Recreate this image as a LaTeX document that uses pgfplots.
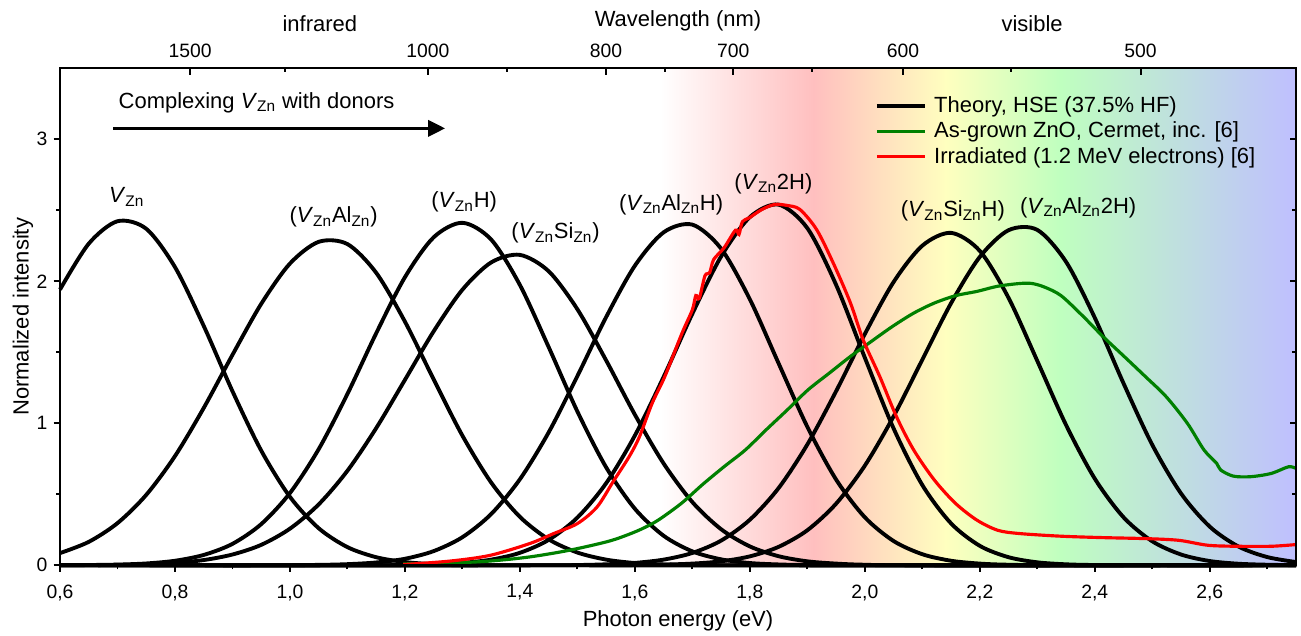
\documentclass[border=0pt]{standalone}
\usepackage{fontspec}
\setmainfont{Liberation Sans}
\usepackage{pgfplots}
\pgfplotsset{compat=1.18}
\usetikzlibrary{arrows.meta}

\definecolor{specred}{RGB}{255,191,191}
\definecolor{specyellow}{RGB}{255,255,191}
\definecolor{specgreen}{RGB}{191,255,191}
\definecolor{specblue}{RGB}{191,191,255}
\definecolor{expgreen}{RGB}{0,128,0}

\newcommand{\lab}{\fontsize{12.5}{15}\selectfont}
\newcommand{\tck}{\fontsize{11}{13}\selectfont}
\newcommand{\VZn}{\textit{V}\textsubscript{Zn}}
\newcommand{\Zn}{\textsubscript{Zn}}

\pgfplotsset{
  frame/.style={
    scale only axis, width=247.2mm, height=99.4mm,
    xmin=0.6, xmax=2.75, ymin=0, ymax=3.5,
    axis line style={line width=1.3pt},
    tick style={line width=1.1pt, black},
    major tick length=1.3mm, minor tick length=0.8mm,
    tick label style={font=\tck},
    /pgf/number format/assume math mode=true,
  },
  theory/.style={black, line width=2.2pt, smooth},
}

\begin{document}
\begin{tikzpicture}
\begin{axis}[frame,
  axis on top, clip=false,
  xtick={0.6,0.8,1.0,1.2,1.4,1.6,1.8,2.0,2.2,2.4,2.6},
  minor xtick={0.7,0.9,1.1,1.3,1.5,1.7,1.9,2.1,2.3,2.5,2.7},
  ytick={0,1,2,3}, minor ytick={0.5,1.5,2.5},
  xtick pos=left, ytick pos=left, tick align=outside,
  xticklabel style={yshift=-1.3mm, /pgf/number format/.cd, fixed, fixed zerofill, precision=1, use comma},
  legend style={draw=none, fill=none, at={(0.659,0.951)}, anchor=north west,
    font=\lab, inner sep=0pt, column sep=0.8mm, nodes={inner sep=0.7mm}},
  legend cell align=left,
  legend image code/.code={\draw[#1] (0mm,0mm) -- (9.6mm,0mm);},
]
\coordinate (bl) at (rel axis cs:0,0);
\coordinate (tr) at (rel axis cs:1,1);
\coordinate (ml) at (rel axis cs:0,0.5);
\coordinate (bm) at (rel axis cs:0.5,0);

% visible spectrum background
\fill[left color=white, right color=specred] (axis cs:1.644,0) rectangle (axis cs:1.912,3.5);
\fill[left color=specred, right color=specyellow] (axis cs:1.910,0) rectangle (axis cs:2.142,3.5);
\fill[left color=specyellow, right color=specgreen] (axis cs:2.140,0) rectangle (axis cs:2.342,3.5);
\fill[left color=specgreen, right color=specblue] (axis cs:2.340,0) rectangle (axis cs:2.75,3.5);

% theory lineshapes
\addplot[theory] coordinates {
 (0.60,1.942) (0.65,2.265) (0.70,2.423) (0.75,2.370) (0.80,2.100)
 (0.85,1.686) (0.90,1.226) (0.95,0.808) (1.00,0.482) (1.05,0.261) (1.10,0.128)
 (1.15,0.057) (1.20,0.023) (1.25,0.008) (1.30,0.002) (1.40,0) (2.75,0)};
\addlegendentry{Theory, HSE (37.5\% HF)}
\addplot[theory, forget plot] coordinates {
 (0.60,0.086) (0.65,0.165) (0.70,0.297) (0.75,0.496) (0.80,0.769) (0.85,1.108)
 (0.90,1.482) (0.95,1.841) (1.00,2.125) (1.05,2.278) (1.10,2.262)
 (1.15,2.060) (1.20,1.716) (1.25,1.309) (1.30,0.913) (1.35,0.583) (1.40,0.341)
 (1.45,0.183) (1.50,0.090) (1.55,0.040) (1.60,0.016) (1.65,0.006) (1.70,0.002)
 (1.80,0) (2.75,0)};
\addplot[theory, forget plot] coordinates {
 (0.60,0.000) (0.65,0.002) (0.70,0.005)
 (0.75,0.013) (0.80,0.032) (0.85,0.073) (0.90,0.151) (0.95,0.290) (1.00,0.509)
 (1.05,0.818) (1.10,1.207) (1.15,1.634) (1.20,2.029) (1.25,2.310) (1.30,2.412)
 (1.35,2.294) (1.40,1.974) (1.45,1.537) (1.50,1.083) (1.55,0.690) (1.60,0.398)
 (1.65,0.208) (1.70,0.098) (1.75,0.042) (1.80,0.016) (1.85,0.006) (1.90,0.002)
 (2.00,0) (2.75,0)};
\addplot[theory, forget plot] coordinates {
 (0.60,0.000) (0.65,0.001) (0.70,0.003)
 (0.75,0.007) (0.80,0.017) (0.85,0.037) (0.90,0.076) (0.95,0.144) (1.00,0.258)
 (1.05,0.429) (1.10,0.666) (1.15,0.966) (1.20,1.306) (1.25,1.648) (1.30,1.941)
 (1.35,2.133) (1.40,2.186) (1.45,2.071) (1.50,1.803) (1.55,1.443) (1.60,1.061)
 (1.65,0.717) (1.70,0.445) (1.75,0.254) (1.80,0.133) (1.85,0.064) (1.90,0.028)
 (1.95,0.012) (2.00,0.004) (2.10,0) (2.75,0)};
\addplot[theory, forget plot] coordinates {
 (0.60,0) (0.95,0) (1.05,0.003)
 (1.10,0.008) (1.15,0.020) (1.20,0.046) (1.25,0.100) (1.30,0.198) (1.35,0.361)
 (1.40,0.606) (1.45,0.936) (1.50,1.333) (1.55,1.748) (1.60,2.110) (1.65,2.345)
 (1.70,2.399) (1.75,2.230) (1.80,1.873) (1.85,1.422) (1.90,0.975) (1.95,0.604)
 (2.00,0.338) (2.05,0.171) (2.10,0.078) (2.15,0.032) (2.20,0.012) (2.25,0.004)
 (2.35,0) (2.75,0)};
\addplot[theory, forget plot] coordinates {
 (0.60,0) (1.10,0) (1.20,0.002)
 (1.25,0.006) (1.30,0.017) (1.35,0.040) (1.40,0.088) (1.45,0.179) (1.50,0.336)
 (1.55,0.578) (1.60,0.914) (1.65,1.327) (1.70,1.772) (1.75,2.175) (1.80,2.452)
 (1.85,2.540) (1.90,2.374) (1.95,1.975) (2.00,1.462) (2.05,0.964) (2.10,0.565)
 (2.15,0.295) (2.20,0.137) (2.25,0.057) (2.30,0.021) (2.35,0.007) (2.40,0.002)
 (2.50,0) (2.75,0)};
\addplot[theory, forget plot] coordinates {
 (0.60,0) (1.40,0) (1.50,0.002)
 (1.55,0.007) (1.60,0.017) (1.65,0.040) (1.70,0.087) (1.75,0.174) (1.80,0.321)
 (1.85,0.544) (1.90,0.851) (1.95,1.226) (2.00,1.629) (2.05,1.995) (2.10,2.251)
 (2.15,2.341) (2.20,2.214) (2.25,1.883) (2.30,1.439) (2.35,0.988) (2.40,0.610)
 (2.45,0.338) (2.50,0.169) (2.55,0.076) (2.60,0.030) (2.65,0.011) (2.70,0.004)
 (2.75,0.001)};
\addplot[theory, forget plot] coordinates {
 (0.60,0) (1.50,0) (1.60,0.002)
 (1.65,0.005) (1.70,0.012) (1.75,0.028) (1.80,0.063) (1.85,0.130) (1.90,0.247)
 (1.95,0.434) (2.00,0.702) (2.05,1.049) (2.10,1.448) (2.15,1.846) (2.20,2.172)
 (2.25,2.360) (2.30,2.362) (2.35,2.137) (2.40,1.743) (2.45,1.281)
 (2.50,0.848) (2.55,0.506) (2.60,0.272) (2.65,0.132) (2.70,0.058) (2.75,0.023)};

% measured spectra
\addplot[expgreen, line width=1.8pt, smooth] coordinates {
 (1.197,0.010) (1.279,0.016) (1.348,0.030) (1.417,0.059) (1.486,0.106) (1.555,0.170)
 (1.597,0.230) (1.624,0.280) (1.645,0.330) (1.682,0.440) (1.718,0.570) (1.755,0.694)
 (1.792,0.812) (1.828,0.953) (1.865,1.094) (1.901,1.235) (1.938,1.353) (1.975,1.471)
 (2.011,1.576) (2.048,1.682) (2.085,1.776) (2.121,1.847) (2.158,1.899) (2.195,1.929)
 (2.231,1.965) (2.268,1.984) (2.290,1.985) (2.312,1.960) (2.341,1.900) (2.378,1.760)
 (2.414,1.612) (2.451,1.471) (2.488,1.329) (2.524,1.188) (2.561,1.000) (2.590,0.812)
 (2.612,0.718) (2.619,0.671) (2.641,0.628) (2.671,0.624) (2.707,0.647) (2.737,0.694)
 (2.750,0.682)};
\addlegendentry{As-grown ZnO, Cermet, inc. [6]}
\addplot[red, line width=1.8pt, smooth] coordinates {
 (1.197,0.005) (1.279,0.030) (1.348,0.070) (1.417,0.153) (1.459,0.224) (1.500,0.294)
 (1.534,0.410) (1.562,0.588) (1.590,0.765) (1.608,0.906) (1.630,1.141) (1.652,1.329)
 (1.682,1.635) (1.700,1.800) (1.706,1.900) (1.712,1.880) (1.722,2.040) (1.730,2.060)
 (1.737,2.153) (1.755,2.235) (1.775,2.360) (1.781,2.330) (1.787,2.420) (1.799,2.447)
 (1.821,2.506) (1.843,2.541) (1.865,2.534) (1.887,2.506) (1.916,2.365) (1.945,2.129)
 (1.975,1.847) (1.997,1.588) (2.026,1.329) (2.055,1.047) (2.085,0.812) (2.121,0.600)
 (2.158,0.435) (2.195,0.318) (2.231,0.247) (2.268,0.224) (2.341,0.205) (2.414,0.195)
 (2.488,0.188) (2.546,0.176) (2.597,0.141) (2.649,0.134) (2.707,0.134) (2.750,0.146)};
\addlegendentry{Irradiated (1.2 MeV electrons) [6]}

% peak labels
\node[anchor=base, font=\lab] at (axis cs:0.716,2.553) {\VZn};
\node[anchor=base, font=\lab] at (axis cs:1.076,2.412) {(\VZn Al\Zn)};
\node[anchor=base, font=\lab] at (axis cs:1.303,2.518) {(\VZn H)};
\node[anchor=base, font=\lab] at (axis cs:1.462,2.299) {(\VZn Si\Zn)};
\node[anchor=base, font=\lab] at (axis cs:1.663,2.502) {(\VZn Al\Zn H)};
\node[anchor=base, font=\lab] at (axis cs:1.841,2.647) {(\VZn 2H)};
\node[anchor=base, font=\lab] at (axis cs:2.153,2.455) {(\VZn Si\Zn H)};
\node[anchor=base, font=\lab] at (axis cs:2.371,2.479) {(\VZn Al\Zn 2H)};

\node[anchor=base west, font=\lab, inner sep=0pt] at (axis cs:0.7015,3.218) {Complexing \VZn\ with donors};
\draw[line width=1.9pt, -{Triangle[length=3.4mm, width=3.2mm]}] (axis cs:0.693,3.077) -- (axis cs:1.270,3.077);
\end{axis}

% wavelength axis on top, mirrored ticks on the right
\begin{axis}[frame, clip=false,
  xtick={0.82656,1.23984,1.54980,1.77120,2.06640,2.47968},
  xticklabels={1500,1000,800,700,600,500},
  minor xtick={0.99187,1.37760,1.65312,1.90745,2.25425},
  xtick pos=right, xticklabel pos=right,
  xticklabel style={yshift=0.9mm},
  ytick={0,1,2,3}, minor ytick={0.5,1.5,2.5},
  ytick pos=right, yticklabels={},
  tick align=inside,
]
\node[anchor=base, font=\lab] at (rel axis cs:0.5,1) [yshift=8.3mm] {Wavelength (nm)};
\node[anchor=base, font=\lab] at (axis cs:1.052,3.5) [yshift=7.3mm] {infrared};
\node[anchor=base, font=\lab] at (axis cs:2.291,3.5) [yshift=7.3mm] {visible};
\end{axis}

\node[rotate=90, font=\lab] at ([xshift=-7.4mm]ml) {Normalized intensity};
\node[anchor=base, font=\lab] at ([yshift=-12.2mm]bm) {Photon energy (eV)};

\pgfresetboundingbox
\path ([shift={(-12mm,-14mm)}]bl) rectangle ([shift={(1mm,13.66mm)}]tr);
\end{tikzpicture}
\end{document}
